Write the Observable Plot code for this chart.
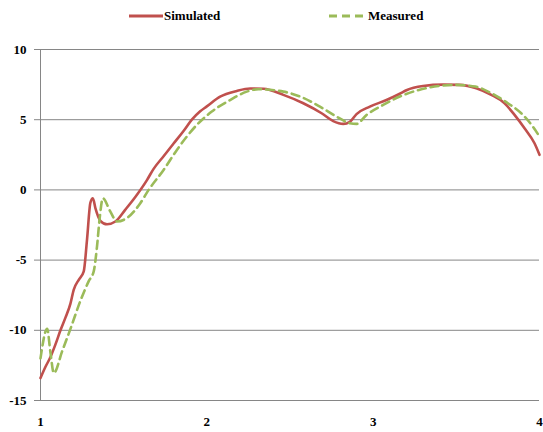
<!DOCTYPE html>
<html>
<head>
<meta charset="utf-8">
<script src="https://cdn.jsdelivr.net/npm/d3@7"></script>
<script src="https://cdn.jsdelivr.net/npm/@observablehq/plot@0.6"></script>
<style>
  html, body { margin: 0; padding: 0; background: #fff; }
  body { width: 543px; height: 432px; overflow: hidden; font-family: "Times New Roman", Times, "Liberation Serif", "DejaVu Serif", serif; }
  #legend { height: 30px; position: relative; font-size: 13px; font-weight: bold; color: #000; }
  .item { position: absolute; top: 8px; display: flex; align-items: center; }
  .item svg { display: block; }
  #chart svg text { font-family: "Times New Roman", Times, "Liberation Serif", "DejaVu Serif", serif !important; }
</style>
</head>
<body>
<div id="legend"></div>
<div id="chart"></div>
<script>
const seriesNames = ["Simulated", "Measured"];
const seriesColors = ["#C0504D", "#9BBB59"];

const simX = [1.00, 1.03, 1.06, 1.09, 1.12, 1.15, 1.18, 1.20, 1.23, 1.26, 1.28, 1.30, 1.315, 1.33, 1.36, 1.40, 1.45, 1.51, 1.57, 1.64, 1.68, 1.74, 1.80, 1.86, 1.91, 1.96, 2.00, 2.08, 2.18, 2.26, 2.34, 2.46, 2.58, 2.69, 2.76, 2.82, 2.86, 2.90, 2.98, 3.08, 3.16, 3.20, 3.30, 3.42, 3.52, 3.62, 3.71, 3.79, 3.85, 3.91, 3.97, 4.00];
const simY = [-13.4, -12.6, -11.9, -11.0, -10.0, -9.1, -8.1, -7.1, -6.4, -5.8, -3.5, -0.9, -0.6, -1.3, -2.2, -2.45, -2.25, -1.4, -0.5, 0.7, 1.5, 2.4, 3.3, 4.2, 5.0, 5.6, 5.95, 6.65, 7.05, 7.22, 7.2, 6.77, 6.17, 5.46, 4.9, 4.7, 4.85, 5.4, 5.93, 6.4, 6.85, 7.1, 7.4, 7.5, 7.48, 7.24, 6.77, 6.17, 5.34, 4.39, 3.32, 2.5];

const meaX = [1.00, 1.04, 1.06, 1.08, 1.13, 1.18, 1.24, 1.29, 1.32, 1.34, 1.355, 1.375, 1.42, 1.46, 1.52, 1.60, 1.65, 1.74, 1.82, 1.94, 2.03, 2.14, 2.24, 2.31, 2.46, 2.56, 2.68, 2.78, 2.86, 2.90, 2.96, 3.06, 3.16, 3.275, 3.395, 3.495, 3.615, 3.71, 3.81, 3.89, 3.96, 4.00];
const meaY = [-12.0, -9.9, -11.6, -13.05, -11.5, -9.9, -7.9, -6.5, -5.8, -4.0, -2.1, -0.6, -1.55, -2.25, -2.0, -0.95, 0.0, 1.42, 2.85, 4.63, 5.58, 6.4, 7.0, 7.17, 7.0, 6.65, 5.93, 5.22, 4.75, 4.7, 5.34, 6.05, 6.65, 7.12, 7.4, 7.48, 7.36, 6.89, 6.17, 5.46, 4.51, 3.8];

const xTicks = [1, 2, 3, 4];
const yTicks = [-15, -10, -5, 0, 5, 10];

const sim = simX.map((x, i) => ({x, y: simY[i]}));
const mea = meaX.map((x, i) => ({x, y: meaY[i]}));

// Legend
const legend = document.getElementById("legend");
const legendPos = [129, 329];
seriesNames.forEach((name, i) => {
  const item = document.createElement("div");
  item.className = "item";
  item.style.left = legendPos[i] + "px";
  const dash = i === 1 ? 'stroke-dasharray="8,5"' : "";
  item.innerHTML = `<svg width="34" height="6"><line x1="0" y1="3" x2="34" y2="3" stroke="${seriesColors[i]}" stroke-width="3" ${dash}/></svg><span style="margin-left:${i === 1 ? 5 : 1}px">${name}</span>`;
  legend.appendChild(item);
});

const fmt = d => String(d);

const chart = Plot.plot({
  width: 543,
  height: 402,
  marginLeft: 40,
  marginRight: 4,
  marginTop: 19,
  marginBottom: 32,
  style: { fontFamily: "'Times New Roman', Times, 'Liberation Serif', 'DejaVu Serif', serif", fontSize: "13px", fontWeight: "bold", color: "#000", background: "#fff" },
  x: { domain: [1, 4] },
  y: { domain: [-15, 10] },
  marks: [
    Plot.gridY(yTicks, { stroke: "#868686", strokeOpacity: 1, strokeWidth: 1 }),
    Plot.ruleX([1], { stroke: "#868686", strokeWidth: 1 }),
    Plot.axisY({ ticks: yTicks, tickFormat: fmt, tickSize: 6, tickPadding: 8, stroke: "#868686", label: null, fill: "#000" }),
    Plot.axisX({ ticks: xTicks, tickFormat: fmt, tickSize: 0, tickPadding: 16, label: null, fill: "#000" }),
    Plot.line(sim, { x: "x", y: "y", stroke: seriesColors[0], strokeWidth: 2.6, curve: "monotone-x" }),
    Plot.line(mea, { x: "x", y: "y", stroke: seriesColors[1], strokeWidth: 2.6, strokeDasharray: "8,5", curve: "monotone-x" })
  ]
});
document.getElementById("chart").appendChild(chart);
</script>
</body>
</html>
